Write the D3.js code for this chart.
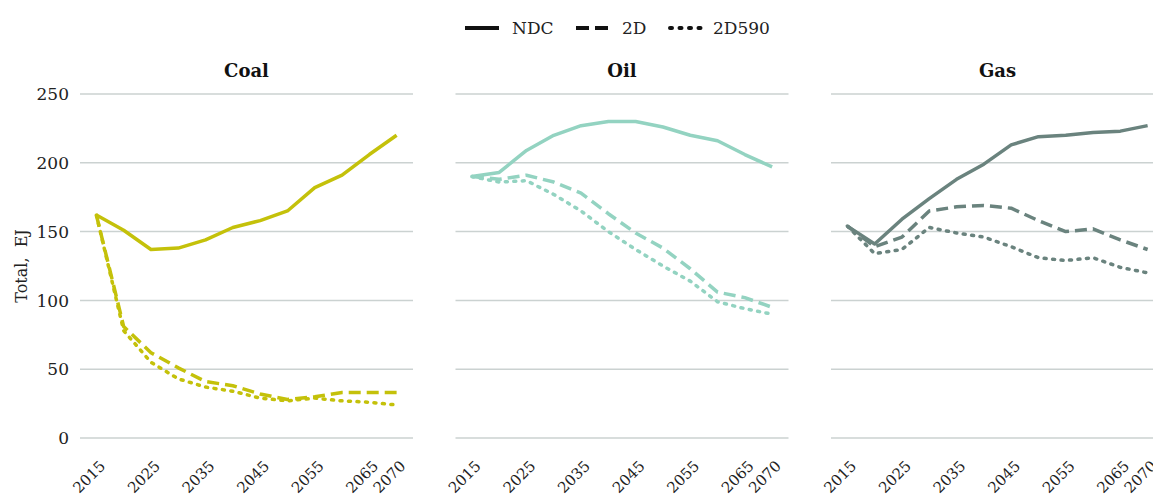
<!DOCTYPE html>
<html><head><meta charset="utf-8">
<script src="https://cdn.jsdelivr.net/npm/d3@7"></script>
<style>body{margin:0;background:#fff}svg{display:block}</style>
</head><body>
<svg id="c" width="1153" height="496"></svg>
<script>
const years = [2015,2020,2025,2030,2035,2040,2045,2050,2055,2060,2065,2070];
const tickYears = [2015,2025,2035,2045,2055,2065,2070];
const yTicks = [0,50,100,150,200,250];
const scenarios = ["NDC","2D","2D590"];
const fuels = ["Coal","Oil","Gas"];
const fuelColors = ["#c4c10a","#93d3c1","#6a837e"];

const coalNDC   = [162,151,137,138,144,153,158,165,182,191,206,220];
const coal2D    = [162,81,62,51,41,38,32,28,30,33,33,33];
const coal2D590 = [162,78,55,43,37,34,29,27,29,27,26,24];
const oilNDC    = [190,193,209,220,227,230,230,226,220,216,206,197];
const oil2D     = [190,188,191,186,178,163,149,138,123,106,102,95];
const oil2D590  = [190,186,187,177,165,150,137,125,114,99,94,90];
const gasNDC    = [154,141,159,174,188,199,213,219,220,222,223,227];
const gas2D     = [154,139,146,165,168,169,167,158,150,152,144,137];
const gas2D590  = [154,134,137,153,149,146,139,131,129,131,124,120];

const seriesByFuel = [
  [coalNDC, coal2D, coal2D590],
  [oilNDC, oil2D, oil2D590],
  [gasNDC, gas2D, gas2D590]
];

const dashes = [null, "12,6", "2,6.5"];
const FONT = "'DejaVu Serif', serif";
const svg = d3.select("#c");

const panelW = 333, panelStarts = [80, 455.5, 831];
const plotTop = 94, plotBottom = 438;
const y = d3.scaleLinear().domain([0,250]).range([plotBottom, plotTop]);

fuels.forEach((fuel, fi) => {
  const x0 = panelStarts[fi];
  const x = d3.scalePoint().domain(years).range([x0, x0+panelW]).padding(0.6);
  const g = svg.append("g");
  g.selectAll("line.grid").data(yTicks).join("line")
    .attr("x1", x0).attr("x2", x0+panelW)
    .attr("y1", d=>y(d)).attr("y2", d=>y(d))
    .attr("stroke", "#cbd2d1").attr("stroke-width", 1.5);
  if (fi === 0) {
    g.selectAll("text.yl").data(yTicks).join("text")
      .attr("x", 69).attr("y", d=>y(d)).attr("dy","0.36em")
      .attr("text-anchor","end").attr("font-family",FONT)
      .attr("font-size",17).attr("fill","#222").text(d=>d);
  }
  g.append("text").attr("x", x0+panelW/2).attr("y", 77)
    .attr("text-anchor","middle").attr("font-family",FONT)
    .attr("font-weight","bold").attr("font-size",18).attr("fill","#111").text(fuel);
  g.selectAll("text.xl").data(tickYears).join("text")
    .attr("transform", d=>`translate(${x(d)+10},467) rotate(-45)`)
    .attr("text-anchor","end").attr("font-family",FONT)
    .attr("font-size",15).attr("fill","#222").text(d=>d);
  const line = d3.line().x((d,i)=>x(years[i])).y(d=>y(d));
  seriesByFuel[fi].forEach((vals, si) => {
    g.append("path").datum(vals).attr("d", line)
      .attr("fill","none").attr("stroke", fuelColors[fi])
      .attr("stroke-width", 3.5)
      .attr("stroke-linecap", si===2 ? "round" : "butt")
      .attr("stroke-linejoin","round")
      .attr("stroke-dasharray", dashes[si]);
  });
});

svg.append("text").attr("transform","translate(27,266) rotate(-90)")
  .attr("text-anchor","middle").attr("font-family",FONT)
  .attr("font-size",16).attr("fill","#222").style("white-space","pre").text("Total,  EJ");

const legX = [465, 576, 668], legTextX = [512, 622, 713];
const leg = svg.append("g");
scenarios.forEach((s, i) => {
  leg.append("line").attr("x1", legX[i]+ (i===2?2:0)).attr("x2", legX[i]+34)
    .attr("y1", 28).attr("y2", 28)
    .attr("stroke","#111").attr("stroke-width",4)
    .attr("stroke-linecap", i===2 ? "round":"butt")
    .attr("stroke-dasharray", i===0?null:(i===1?"13,6":"2,7.5"));
  leg.append("text").attr("x", legTextX[i]).attr("y", 28).attr("dy","0.36em")
    .attr("font-family",FONT).attr("font-size",17).attr("fill","#222").text(s);
});
</script>
</body></html>
